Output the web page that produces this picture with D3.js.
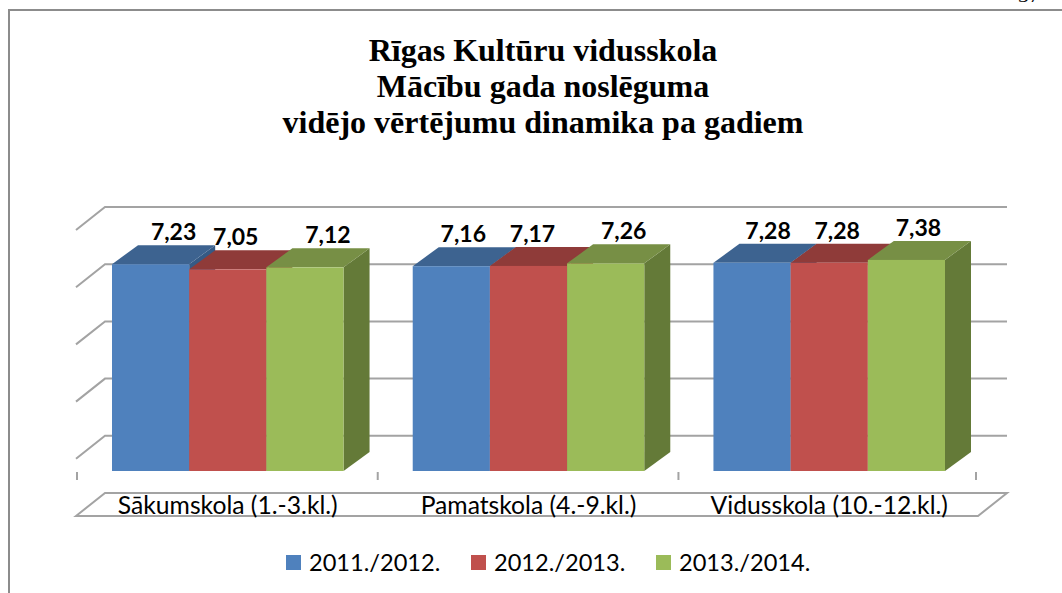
<!DOCTYPE html>
<html>
<head>
<meta charset="utf-8">
<script src="https://cdn.jsdelivr.net/npm/d3@7"></script>
<style>
  html, body { margin: 0; padding: 0; background: #fff; overflow: hidden; }
  svg { display: block; }
</style>
</head>
<body>
<div class="container"></div>
<script>
// Data
const titleLines = ["Rīgas Kultūru vidusskola", "Mācību gada noslēguma", "vidējo vērtējumu dinamika pa gadiem"];
const categories = ["Sākumskola (1.-3.kl.)", "Pamatskola (4.-9.kl.)", "Vidusskola (10.-12.kl.)"];
const seriesNames = ["2011./2012.", "2012./2013.", "2013./2014."];
const values2011 = [7.23, 7.16, 7.28];
const values2012 = [7.05, 7.17, 7.28];
const values2013 = [7.12, 7.26, 7.38];
const gridTicks = [2, 4, 6, 8, 10];

const frontColors = ["#4f81bd", "#c0504d", "#9bbb59"];
const topColors = ["#3d6390", "#8f3b39", "#778f45"];
const sideColors = ["#355a85", "#823533", "#647a38"];

const width = 1062, height = 593;
const values = [values2011, values2012, values2013];

// the data labels were nudged by hand in the original
const labelNudge = [[23, 8, 23], [12, 4, 18], [16, 8, 12]];

const svg = d3.select(".container").append("svg")
    .attr("width", width)
    .attr("height", height);

// page frame
svg.append("path")
    .attr("d", `M${width},10H9V${height}`)
    .attr("fill", "none")
    .attr("stroke", "#8c8c8c")
    .attr("stroke-width", 2);

// clipped page number above the frame
svg.append("text")
    .attr("x", 1029).attr("y", 2)
    .attr("text-anchor", "middle")
    .style("font", "22px 'Liberation Serif'")
    .text("37");

svg.append("g").selectAll("text")
  .data(titleLines)
  .join("text")
    .attr("x", 543)
    .attr("y", (d, i) => 61 + i * 36)
    .attr("text-anchor", "middle")
    .style("font", "bold 32px 'Liberation Serif'")
    .text(d => d);

// wall scale, and the one the bar fronts stand on
const yWall = d3.scaleLinear().domain([0, 10]).range([493, 207]);
const yBar = d3.scaleLinear().domain([0, 10]).range([471, 185]);
const x = d3.scaleBand().domain(categories).range([112, 945]).paddingInner(0.23);
const xSeries = d3.scaleBand().domain(d3.range(seriesNames.length)).range([0, x.bandwidth()]);

const wallDx = 29, wallDy = -23;   // floor depth
const barDx = 26, barDy = -19;     // bar depth
const wallLeft = 105, wallRight = 1007;

const gridColor = "#a3a3a3";

const grid = svg.append("g")
    .attr("fill", "none")
    .attr("stroke", gridColor)
    .attr("stroke-width", 2);

grid.selectAll("path")
  .data(gridTicks)
  .join("path")
    .attr("d", d => `M${wallLeft - wallDx},${yWall(d) - wallDy}L${wallLeft},${yWall(d)}H${wallRight}`);

// floor band
grid.append("path")
    .attr("d", `M${wallLeft - wallDx},${yWall(0) - wallDy}L${wallLeft},${yWall(0)}H${wallRight}L${wallRight - wallDx},${yWall(0) - wallDy}Z`);

// category ticks
const tickXs = categories.map(c => x(c) - 35).concat(x(categories[2]) + x.bandwidth() + 31);
grid.selectAll("line")
  .data(tickXs)
  .join("line")
    .attr("x1", d => d).attr("x2", d => d)
    .attr("y1", 472).attr("y2", 480);

// bars, left to right so each one covers the side of the one before
categories.forEach((cat, c) => {
  const g = svg.append("g");
  seriesNames.forEach((name, s) => {
    const v = values[s][c];
    const x0 = x(cat) + xSeries(s);
    const x1 = x0 + xSeries.bandwidth();
    const yTop = yBar(v), yBase = yBar(0);

    g.append("path")
        .attr("d", `M${x1},${yTop}l${barDx},${barDy}V${yBase + barDy}L${x1},${yBase}Z`)
        .attr("fill", sideColors[s]);
    g.append("path")
        .attr("d", `M${x0},${yTop}l${barDx},${barDy}H${x1 + barDx}L${x1},${yTop}Z`)
        .attr("fill", topColors[s]);
    g.append("rect")
        .attr("x", x0).attr("y", yTop)
        .attr("width", x1 - x0).attr("height", yBase - yTop)
        .attr("fill", frontColors[s]);
  });
});

// data labels go on top of all bars
categories.forEach((cat, c) => {
  seriesNames.forEach((name, s) => {
    const v = values[s][c];
    svg.append("text")
        .attr("x", x(cat) + xSeries(s) + xSeries.bandwidth() / 2 + labelNudge[c][s])
        .attr("y", yBar(v) + barDy - 5)
        .attr("text-anchor", "middle")
        .style("font", "bold 23px Lato")
        .text(d3.format(".2f")(v).replace(".", ","));
  });
});

svg.append("g").selectAll("text")
  .data(categories)
  .join("text")
    .attr("x", d => x(d) + x.bandwidth() / 2)
    .attr("y", 514)
    .attr("text-anchor", "middle")
    .style("font", "24.7px Lato")
    .text(d => d);

// legend
const legendX = d3.scalePoint().domain(seriesNames).range([286, 656]);
const legend = svg.append("g").selectAll("g")
  .data(seriesNames)
  .join("g")
    .attr("transform", d => `translate(${legendX(d)},555)`);

legend.append("rect")
    .attr("width", 15).attr("height", 15)
    .attr("fill", (d, i) => frontColors[i]);

legend.append("text")
    .attr("x", 23).attr("y", 16)
    .style("font", "23.6px Lato")
    .text(d => d);
</script>
</body>
</html>
